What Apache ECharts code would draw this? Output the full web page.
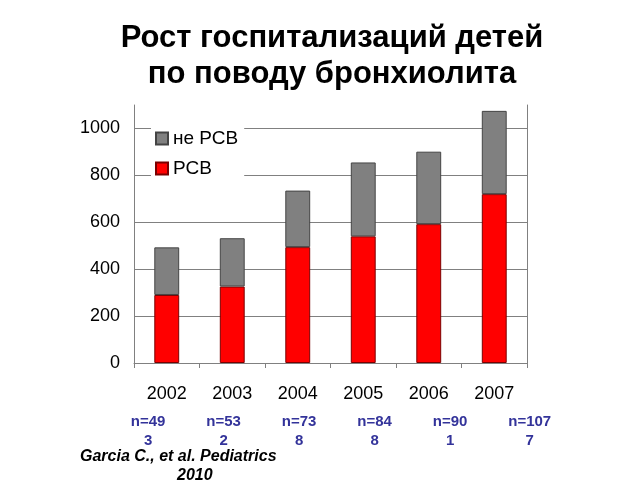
<!DOCTYPE html>
<html><head><meta charset="utf-8">
<script src="https://cdn.jsdelivr.net/npm/echarts@6/dist/echarts.min.js"></script>
<style>html,body{margin:0;padding:0;background:#fff}#c{width:640px;height:480px}</style>
</head><body><div id="c"></div>
<script>
const years = ['2002','2003','2004','2005','2006','2007'];
const rsv = [290, 326, 494, 540, 592, 720];
const nonRsv = [203, 206, 241, 315, 309, 355];
const nLabels = ['n=49\n3','n=53\n2','n=73\n8','n=84\n8','n=90\n1','n=107\n7'];
const yTicks = [0, 200, 400, 600, 800, 1000];
const titleText = 'Рост госпитализаций детей\nпо поводу бронхиолита';
const citation = 'Garcia C., et al. Pediatrics';
const citationYear = '2010';

const FONT = '"Liberation Sans", Arial, sans-serif';
const chart = echarts.init(document.getElementById('c'));
const nGraphics = nLabels.map((t, i) => ({
  type: 'text', left: 93 + 75.5 * i + 37.75, top: 412,
  style: { text: t, font: 'bold 15px ' + FONT, fill: '#33339a', textAlign: 'center', lineHeight: 19 }
}));
chart.setOption({
  animation: false,
  title: { text: titleText, left: 327, top: 15, textAlign: 'center',
    textStyle: { fontFamily: FONT, fontWeight: 'bold', fontSize: 31, lineHeight: 36, color: '#000' } },
  legend: { orient: 'vertical', left: 151, top: 125, itemWidth: 12, itemHeight: 12, itemGap: 11,
    backgroundColor: '#fff', padding: [4, 6, 4, 4], icon: 'rect',
    data: ['не РСВ', 'РСВ'],
    textStyle: { fontFamily: FONT, fontSize: 19, color: '#000' } },
  grid: { left: 134, right: 113, top: 105, bottom: 117 },
  xAxis: { type: 'category', data: years,
    axisLine: { lineStyle: { color: '#808080', width: 1 } },
    axisTick: { show: true, length: 5, lineStyle: { color: '#808080' } },
    axisLabel: { fontFamily: FONT, fontSize: 18, color: '#000', margin: 22 } },
  yAxis: [{ type: 'value', min: 0, max: 1100, interval: 200,
    axisLine: { show: true, lineStyle: { color: '#808080' } },
    axisTick: { show: false },
    axisLabel: { fontFamily: FONT, fontSize: 18, color: '#000', margin: 14,
      formatter: v => yTicks.includes(v) ? String(v) : '' },
    splitLine: { show: true, showMaxLine: false, lineStyle: { color: '#808080' } } },
   { type: 'value', min: 0, max: 1100, position: 'right',
    axisLine: { show: true, lineStyle: { color: '#808080' } },
    axisTick: { show: false }, axisLabel: { show: false }, splitLine: { show: false } }],
  series: [
    { name: 'РСВ', type: 'bar', stack: 's', data: rsv, barWidth: '38%',
      itemStyle: { color: '#ff0000', borderColor: '#7a0000', borderWidth: 1 } },
    { name: 'не РСВ', type: 'bar', stack: 's', data: nonRsv, barWidth: '38%',
      itemStyle: { color: '#808080', borderColor: '#444', borderWidth: 1 } }
  ],
  graphic: nGraphics.concat([
    { type: 'text', left: 80, top: 449, style: { text: citation, font: 'italic bold 16px ' + FONT, fill: '#000' } },
    { type: 'text', left: 177, top: 468, style: { text: citationYear, font: 'italic bold 16px ' + FONT, fill: '#000', textAlign: 'center' } }
  ])
});
</script></body></html>
